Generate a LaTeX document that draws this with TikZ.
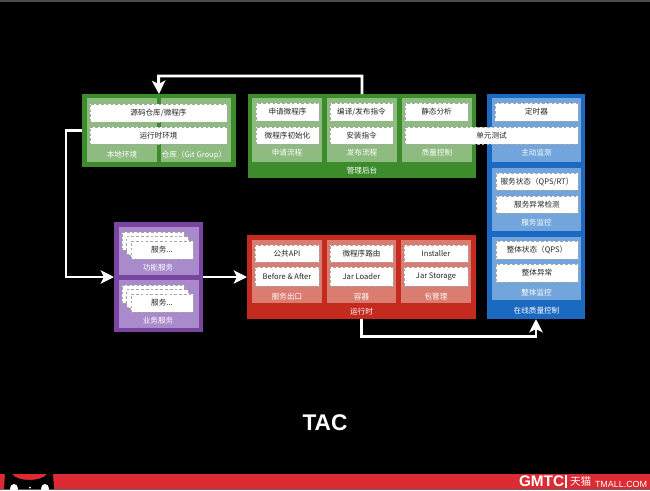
\documentclass[tikz,border=0pt]{standalone}
\usepackage{fontspec}
\setmainfont{Noto Sans CJK SC}
\newfontfamily\titlefont{Liberation Sans}
\usetikzlibrary{arrows.meta}
\def\pu{0.75pt}
\definecolor{greenouter}{HTML}{3C8C2C}
\definecolor{greenpanel}{HTML}{8DBB80}
\definecolor{blueouter}{HTML}{1B69C0}
\definecolor{bluepanel}{HTML}{72A5DB}
\definecolor{redouter}{HTML}{C42A1E}
\definecolor{redpanel}{HTML}{DB7C70}
\definecolor{purpleouter}{HTML}{7A45A0}
\definecolor{purplepanel}{HTML}{A98ACB}
\definecolor{barred}{HTML}{DC2B32}
\tikzset{
  boxsize/.style 2 args={minimum width=#1*\pu, minimum height=#2*\pu},
  plain/.style={inner sep=0pt, outer sep=0pt},
  outerbox/.style={plain, fill=#1},
  panelbox/.style={plain, fill=#1},
  sub/.style={plain, draw=black!35, fill=white, dash pattern=on 2pt off 1.6pt, line width=0.6pt,
    font=\fontsize{5.7}{7}\selectfont, text=black!85},
  tag/.style={plain, text=white, font=\fontsize{5.7}{7}\selectfont},
  flow/.style={draw=white, line width=2.2pt, -{Stealth[length=10pt, width=10pt, inset=2.5pt]}},
}
\begin{document}
\begin{tikzpicture}[x=\pu, y=-\pu]
  \useasboundingbox[fill=black] (0,0) rectangle (650,490);
  \node[plain, fill=black!70, boxsize={650}{1.5}] (topline) at (325,0.75) {};

  % green boxes
  \node[outerbox=greenouter, boxsize={154}{73}] (local) at (159,130.5) {};
  \node[panelbox=greenpanel, boxsize={70}{64}] (localenv) at (122,130) {};
  \node[panelbox=greenpanel, boxsize={70}{64}] (repo) at (196,130) {};
  \node[sub, boxsize={137}{18}] (source) at (158.5,113) {源码仓库/微程序};
  \node[sub, boxsize={137}{17}] (runenv) at (158.5,135.5) {运行时环境};
  \node[tag] (localtag) at (122,155) {本地环境};
  \node[tag] (repotag) at (194,155) {仓库（Git Group）};

  \node[outerbox=greenouter, boxsize={228}{84}] (admin) at (362,136) {};
  \node[panelbox=greenpanel, boxsize={70}{64}] (apply) at (287,130) {};
  \node[panelbox=greenpanel, boxsize={70}{64}] (publish) at (362,130) {};
  \node[panelbox=greenpanel, boxsize={70}{64}] (quality) at (437,130) {};
  \node[sub, boxsize={63}{18}] (applyprog) at (287.5,112) {申请微程序};
  \node[sub, boxsize={63}{17}] (initprog) at (287.5,135.5) {微程序初始化};
  \node[sub, boxsize={63}{18}] (buildcmd) at (361.5,112) {编译/发布指令};
  \node[sub, boxsize={63}{17}] (installcmd) at (361.5,135.5) {安装指令};
  \node[sub, boxsize={63}{18}] (staticcheck) at (436.5,112) {静态分析};
  \node[tag] (applytag) at (287,153) {申请流程};
  \node[tag] (publishtag) at (362,153) {发布流程};
  \node[tag] (qualitytag) at (437,153) {质量控制};
  \node[tag] (admintag) at (362,171) {管理后台};

  % blue column
  \node[outerbox=blueouter, boxsize={98}{225}] (online) at (536,206.5) {};
  \node[panelbox=bluepanel, boxsize={89}{64}] (activepanel) at (536.5,130) {};
  \node[panelbox=bluepanel, boxsize={89}{63}] (servicepanel) at (536.5,199.5) {};
  \node[panelbox=bluepanel, boxsize={89}{63}] (wholepanel) at (536.5,268.5) {};
  \node[sub, boxsize={83}{18}] (timer) at (536.5,112) {定时器};
  \node[sub, boxsize={173}{17}] (unittest) at (491.5,135.5) {单元测试};
  \node[sub, boxsize={82}{17}] (servicestate) at (537,181.5) {服务状态（QPS/RT）};
  \node[sub, boxsize={82}{17}] (serviceerr) at (537,204.5) {服务异常检测};
  \node[sub, boxsize={82}{18}] (wholestate) at (537,250) {整体状态（QPS）};
  \node[sub, boxsize={82}{18}] (wholeerr) at (537,273) {整体异常};
  \node[tag] (activetag) at (536.5,153) {主动监测};
  \node[tag] (servicetag) at (536.5,223) {服务监控};
  \node[tag] (wholetag) at (536.5,293) {整体监控};
  \node[tag] (onlinetag) at (536.5,311) {在线质量控制};

  % purple box
  \node[outerbox=purpleouter, boxsize={89}{110}] (services) at (158.5,277) {};
  \node[panelbox=purplepanel, boxsize={80}{48}] (funcpanel) at (159,251) {};
  \node[panelbox=purplepanel, boxsize={80}{48}] (bizpanel) at (159,304) {};
  \node[sub, boxsize={62}{18}] (funcback) at (153,241) {};
  \node[sub, boxsize={62}{18}] (funcmid) at (157.5,245.5) {};
  \node[sub, boxsize={62}{18}] (funcfront) at (162,250) {服务...};
  \node[sub, boxsize={62}{18}] (bizback) at (153,294) {};
  \node[sub, boxsize={62}{18}] (bizmid) at (157.5,298.5) {};
  \node[sub, boxsize={62}{18}] (bizfront) at (162,303) {服务...};
  \node[tag] (functag) at (158,268) {功能服务};
  \node[tag] (biztag) at (158,321) {业务服务};

  % red box
  \node[outerbox=redouter, boxsize={229}{84}] (runtime) at (361.5,277) {};
  \node[panelbox=redpanel, boxsize={70}{63}] (exitpanel) at (287,271.5) {};
  \node[panelbox=redpanel, boxsize={69}{63}] (containerpanel) at (361.5,271.5) {};
  \node[panelbox=redpanel, boxsize={70}{63}] (packpanel) at (436,271.5) {};
  \node[sub, boxsize={64}{17}] (publicapi) at (287,253.5) {公共API};
  \node[sub, boxsize={64}{19}] (beforeafter) at (287,276.5) {Before \& After};
  \node[sub, boxsize={63}{17}] (route) at (361.5,253.5) {微程序路由};
  \node[sub, boxsize={63}{19}] (jarloader) at (361.5,276.5) {Jar Loader};
  \node[sub, boxsize={64}{17}] (installer) at (436,253.5) {Installer};
  \node[sub, boxsize={64}{19}] (jarstorage) at (436,276.5) {Jar Storage};
  \node[tag] (exittag) at (287,297) {服务出口};
  \node[tag] (containertag) at (361.5,297) {容器};
  \node[tag] (packtag) at (436,297) {包管理};
  \node[tag] (runtimetag) at (361.5,312) {运行时};

  % connectors
  \coordinate (toprail) at (158.5,76);
  \coordinate (leftrail) at (66,200);
  \coordinate (lowrail) at (450,336.5);
  \draw[flow] (admin.north) |- (toprail) -- (local.north);
  \draw[flow] (local.west) -| (leftrail) |- (services.west);
  \draw[flow] (services.east) -- (runtime.west);
  \draw[flow] (runtime.south) |- (lowrail) -| (online.south);

  \node[plain, text=white, font=\titlefont\bfseries\fontsize{17}{20}\selectfont] (title) at (325,423) {TAC};

  % footer
  \node[plain, fill=barred, boxsize={650}{15}] (bar) at (325,481.5) {};
  \node[plain, fill=black!60, boxsize={650}{1.5}] (barline) at (325,489.3) {};
  \fill[black] (4,489) -- (5,474) -- (12,474) .. controls (17,482) and (42,482) .. (47,474) -- (53,474) -- (54,489) -- cycle;
  \fill[white] (14,488.5) ellipse (4 and 4.5);
  \fill[white] (45,488.5) ellipse (4 and 4.5);
  \fill[white] (30,487.5) circle (1);
  \node[plain, anchor=west, text=white, font=\titlefont\bfseries\fontsize{11.5}{13}\selectfont] (gmtc) at (519,481.5) {GMTC};
  \node[plain, fill=white, boxsize={1.2}{13}] (logosep) at (566,481) {};
  \node[plain, anchor=west, text=white, font=\fontsize{8}{9}\selectfont] (tianmao) at (570,481.5) {天猫};
  \node[plain, anchor=west, text=white, font=\titlefont\fontsize{6.7}{8}\selectfont] (tmall) at (595,484) {TMALL.COM};
\end{tikzpicture}
\end{document}
